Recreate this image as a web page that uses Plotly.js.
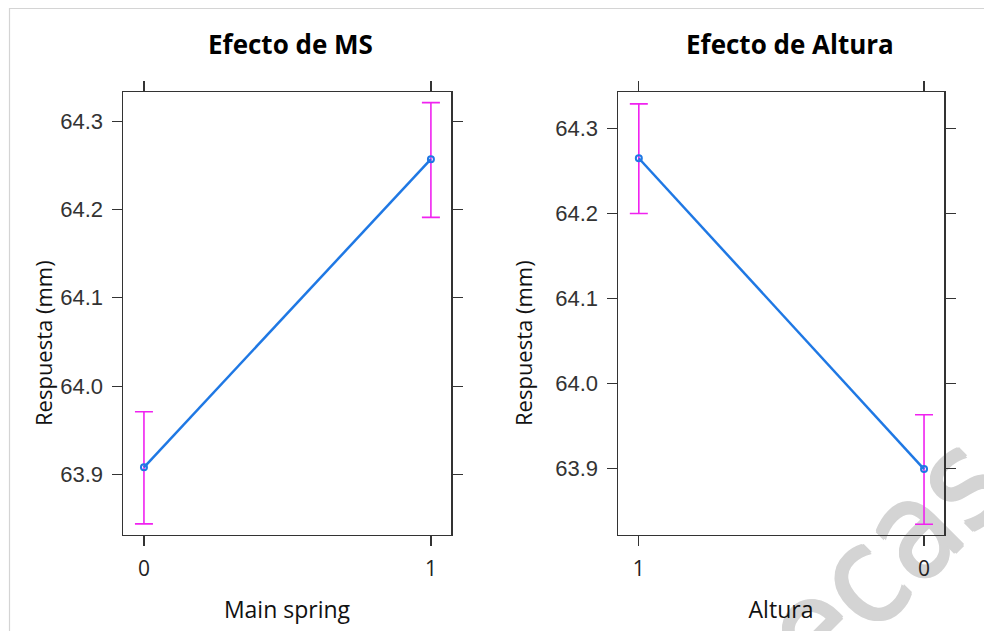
<!DOCTYPE html>
<html>
<head>
<meta charset="utf-8">
<script src="https://cdn.plot.ly/plotly-3.0.1.min.js"></script>
<style>html,body{margin:0;padding:0;background:#fff;}#chart{width:984px;height:631px;}</style>
</head>
<body>
<div id="chart"></div>
<script>
// Panel 1: Efecto de MS
var msLevels = ['0', '1'];
var msMean   = [63.908, 64.257];
var msLower  = [63.844, 64.191];
var msUpper  = [63.971, 64.321];

// Panel 2: Efecto de Altura
var altLevels = ['1', '0'];
var altMean   = [64.265, 63.899];
var altLower  = [64.200, 63.834];
var altUpper  = [64.329, 63.963];

var yTickVals = [63.9, 64.0, 64.1, 64.2, 64.3];
var yTickText = ['63.9', '64.0', '64.1', '64.2', '64.3'];

var titles = ['Efecto de MS', 'Efecto de Altura'];
var xTitles = ['Main spring', 'Altura'];
var yTitle = 'Respuesta (mm)';
var watermark = 'tecas';

function diff(a, b) { return a.map(function (v, i) { return v - b[i]; }); }

var lineColor = '#1f78e4';
var errColor = '#f022f0';

function makeTrace(levels, mean, lower, upper, xa, ya) {
  return {
    type: 'scatter', mode: 'lines+markers',
    x: levels, y: mean, xaxis: xa, yaxis: ya,
    line: {color: lineColor, width: 2.5},
    marker: {symbol: 'circle-open', size: 6, color: lineColor, line: {width: 2, color: lineColor}},
    error_y: {type: 'data', symmetric: false,
      array: diff(upper, mean), arrayminus: diff(mean, lower),
      color: errColor, thickness: 1.6, width: 9},
    showlegend: false, hoverinfo: 'x+y'
  };
}

var data = [
  makeTrace(msLevels, msMean, msLower, msUpper, 'x', 'y'),
  makeTrace(altLevels, altMean, altLower, altUpper, 'x2', 'y2')
];

var H = 631, W = 984;
var yDom = [1 - 534.5 / H, 1 - 92 / H];

function xAxis(dom, cats, title, anchor) {
  return {
    domain: dom, anchor: anchor, type: 'category', categoryorder: 'array', categoryarray: cats,
    range: [-0.073, 1.07],
    showline: true, linecolor: '#333', linewidth: 1.5, mirror: 'ticks',
    ticks: 'outside', ticklen: 10, tickwidth: 1.2, tickcolor: '#333',
    ticklabelstandoff: 5,
    showgrid: false, zeroline: false,
    tickfont: {family: 'Open Sans, sans-serif', size: 21, color: '#222'},
    title: {text: title, standoff: 20, font: {family: 'Open Sans, sans-serif', size: 23, color: '#111'}},
    automargin: false, fixedrange: true
  };
}
function yAxis(range, anchor) {
  return {
    domain: yDom, anchor: anchor, range: range,
    tickvals: yTickVals, ticktext: yTickText,
    showline: true, linecolor: '#333', linewidth: 1.5, mirror: 'ticks',
    ticks: 'outside', ticklen: 10, tickwidth: 1.2, tickcolor: '#333',
    ticklabelstandoff: 4,
    showgrid: false, zeroline: false,
    tickfont: {family: 'Liberation Sans, Arial, sans-serif', size: 22, color: '#333'},
    automargin: false, fixedrange: true
  };
}

function ann(text, x, y, size, bold, angle) {
  var f = {family: 'Open Sans, sans-serif', size: size, color: bold ? '#000' : '#111'};
  if (bold) f.weight = 'bold';
  return {text: text, xref: 'paper', yref: 'paper', x: x / W, y: 1 - y / H,
    xanchor: 'center', yanchor: 'middle', showarrow: false, textangle: angle || 0, font: f};
}

var wmColor = '#d4d4d4';
var wmShadow = ['1.5px 0 0 ', '-1.5px 0 0 ', '0 1.5px 0 ', '0 -1.5px 0 '].map(function (s) { return s + wmColor; }).join(', ');

var layout = {
  width: W, height: H,
  margin: {l: 0, r: 0, t: 0, b: 0},
  paper_bgcolor: '#ffffff', plot_bgcolor: 'rgba(0,0,0,0)',
  xaxis: xAxis([123 / W, 451 / W], msLevels, xTitles[0], 'y'),
  yaxis: yAxis([63.832, 64.333], 'x'),
  xaxis2: xAxis([618 / W, 944 / W], altLevels, xTitles[1], 'y2'),
  yaxis2: yAxis([63.822, 64.343], 'x2'),
  annotations: [
    ann(titles[0], 290, 44, 26, true),
    ann(titles[1], 790, 44, 26, true),
    ann(yTitle, 43, 343, 22, false, -90),
    ann(yTitle, 523, 343, 22, false, -90)
  ],
  shapes: [
    {type: 'rect', xref: 'paper', yref: 'paper', x0: 9.5 / W, x1: 1.02, y0: -0.02, y1: 1 - 8.5 / H,
     line: {color: '#d4d4d4', width: 1.2}, fillcolor: 'rgba(0,0,0,0)', layer: 'below'},
    {type: 'rect', xref: 'paper', yref: 'paper', x0: 815 / W, x1: 905 / W, y0: 1 - 613 / H, y1: 1 - 523 / H,
     line: {width: 0}, fillcolor: 'rgba(0,0,0,0)', layer: 'below',
     label: {text: watermark, textangle: -45, textposition: 'middle center',
       font: {family: 'Liberation Sans Narrow, DejaVu Sans Condensed, Liberation Sans, Arial, sans-serif',
              stretch: 'condensed', size: 135, color: wmColor, shadow: wmShadow}}}
  ]
};

Plotly.newPlot('chart', data, layout, {displayModeBar: false, staticPlot: true});
</script>
</body>
</html>
